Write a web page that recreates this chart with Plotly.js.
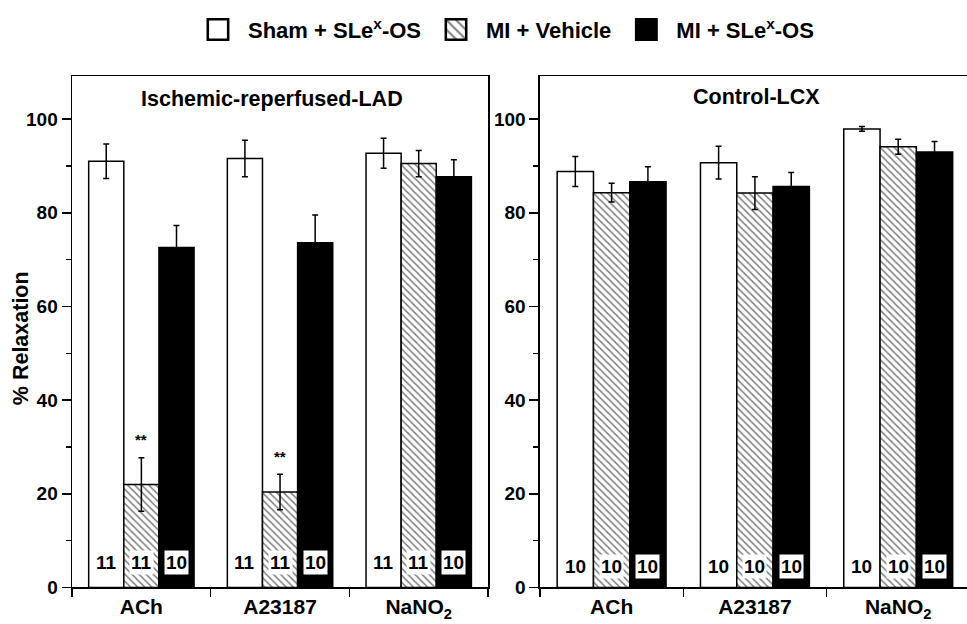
<!DOCTYPE html>
<html><head><meta charset="utf-8">
<script src="https://cdn.plot.ly/plotly-3.0.1.min.js"></script>
<style>html,body{margin:0;padding:0;background:#fff;overflow:hidden}</style>
</head><body><div id="chart" style="width:967px;height:624px"></div>
<script>
// ---- data ----
const categories = ['ACh', 'A23187', 'NaNO<sub>2</sub>'];
const seriesNames = ['Sham + SLe<sup>x</sup>-OS', 'MI + Vehicle', 'MI + SLe<sup>x</sup>-OS'];
const panelTitles = ['Ischemic-reperfused-LAD', 'Control-LCX'];
const yAxisTitle = '% Relaxation';
const yTickVals = [0, 20, 40, 60, 80, 100];
const yMinorTickVals = [10, 30, 50, 70, 90];

// Ischemic-reperfused LAD
const ladSham = [91.0, 91.6, 92.7];
const ladShamErr = [3.7, 3.9, 3.2];
const ladVehicle = [22.0, 20.4, 90.5];
const ladVehicleErr = [5.7, 3.8, 2.8];
const ladSLex = [72.6, 73.6, 87.7];
const ladSLexErr = [4.7, 5.9, 3.6];
const ladNSham = [11, 11, 11];
const ladNVehicle = [11, 11, 11];
const ladNSLex = [10, 10, 10];
const ladVehicleSignif = ['**', '**', ''];

// Control LCX
const lcxSham = [88.8, 90.7, 97.9];
const lcxShamErr = [3.2, 3.5, 0.5];
const lcxVehicle = [84.3, 84.2, 94.1];
const lcxVehicleErr = [2.0, 3.5, 1.6];
const lcxSLex = [86.6, 85.6, 93.0];
const lcxSLexErr = [3.2, 3.0, 2.2];
const lcxNSham = [10, 10, 10];
const lcxNVehicle = [10, 10, 10];
const lcxNSLex = [10, 10, 10];

// ---- styles ----
const FONT = 'Liberation Sans, Arial, Helvetica, sans-serif';
const BARGAP = 0.24;
const BARW = (1 - BARGAP) / 3;
const seriesStyles = [
  {color: '#ffffff', line: {color: '#000', width: 1.5}},
  {color: '#ffffff', line: {color: '#000', width: 1.5},
   pattern: {shape: '\\', fgcolor: '#000', bgcolor: '#fff', size: 5, solidity: 0.3, fillmode: 'overlay'}},
  {color: '#000000', line: {color: '#000', width: 1.5}}
];
const labelBg = [null, '#ffffff', '#ffffff'];

const panels = [
  {xa: 'x', ya: 'y', vals: [ladSham, ladVehicle, ladSLex], errs: [ladShamErr, ladVehicleErr, ladSLexErr],
   ns: [ladNSham, ladNVehicle, ladNSLex], nY: 5.3, signif: ladVehicleSignif},
  {xa: 'x2', ya: 'y2', vals: [lcxSham, lcxVehicle, lcxSLex], errs: [lcxShamErr, lcxVehicleErr, lcxSLexErr],
   ns: [lcxNSham, lcxNVehicle, lcxNSLex], nY: 4.4, signif: null}
];

const traces = [];
const annotations = [];
panels.forEach((p, pi) => {
  p.vals.forEach((v, k) => {
    traces.push({
      type: 'bar', x: categories, y: v, name: seriesNames[k],
      xaxis: p.xa, yaxis: p.ya, legendgroup: 's' + k, showlegend: pi === 0,
      marker: seriesStyles[k],
      error_y: {type: 'data', array: p.errs[k], visible: true, color: '#000', thickness: 1.5, width: 3},
      hoverinfo: 'skip'
    });
    p.ns[k].forEach((n, i) => {
      annotations.push({
        xref: p.xa, yref: p.ya, x: i + (k - 1) * BARW, y: p.nY, text: String(n),
        xanchor: 'center', yanchor: 'middle',
        showarrow: false, bgcolor: labelBg[k] || 'rgba(0,0,0,0)', borderpad: 1,
        font: {family: FONT, size: 19, color: '#000', weight: 'bold'}
      });
    });
  });
  if (p.signif) {
    p.signif.forEach((s, i) => {
      if (!s) return;
      annotations.push({
        xref: p.xa, yref: p.ya, x: i, y: p.vals[1][i] + p.errs[1][i] + 1.6, text: s,
        xanchor: 'center', yanchor: 'bottom', showarrow: false,
        font: {family: FONT, size: 15, color: '#000', weight: 'bold'}
      });
    });
  }
});
const titleFont = {family: FONT, size: 21.5, color: '#000', weight: 'bold'};
annotations.push({xref: 'paper', yref: 'paper', x: 0.2808, y: 0.841, xanchor: 'center', yanchor: 'middle',
  text: panelTitles[0], showarrow: false, font: titleFont});
annotations.push({xref: 'paper', yref: 'paper', x: 0.7818, y: 0.844, xanchor: 'center', yanchor: 'middle',
  text: panelTitles[1], showarrow: false, font: titleFont});
annotations.push({xref: 'paper', yref: 'paper', x: 0.0217, y: 0.458, xanchor: 'center', yanchor: 'middle',
  textangle: -90, text: yAxisTitle, showarrow: false, font: titleFont});

const xBase = {
  type: 'category', range: [-0.5, 2.5], tickson: 'boundaries', ticks: 'outside', ticklen: 8,
  tickwidth: 1.5, tickcolor: '#000', showline: true, linecolor: '#000', linewidth: 1.5,
  showgrid: false, zeroline: false, fixedrange: true,
  tickfont: {family: FONT, size: 21, color: '#000', weight: 'bold'}
};
const yBase = {
  range: [0, 109.2], tickmode: 'array', tickvals: yTickVals, ticks: 'outside', ticklen: 9,
  tickwidth: 1.5, tickcolor: '#000', showline: true, linecolor: '#000', linewidth: 1.5,
  showgrid: false, zeroline: false, fixedrange: true,
  minor: {tickmode: 'array', tickvals: yMinorTickVals, ticks: 'outside', ticklen: 5, tickwidth: 1.5, tickcolor: '#000', showgrid: false},
  tickfont: {family: FONT, size: 19, color: '#000', weight: 'bold'}
};
const dom = [0.0585, 0.8782];

const layout = {
  width: 967, height: 624,
  margin: {l: 0, r: 0, t: 0, b: 0},
  paper_bgcolor: '#fff', plot_bgcolor: 'rgba(0,0,0,0)',
  barmode: 'group', bargap: BARGAP, bargroupgap: 0,
  showlegend: true,
  legend: {orientation: 'h', x: 0.1944, xanchor: 'left', y: 0.986, yanchor: 'top', itemwidth: 50,
    font: {family: FONT, size: 22, color: '#000', weight: 'bold'}, traceorder: 'normal', itemclick: false},
  xaxis: Object.assign({}, xBase, {domain: [0.0745, 0.5047], anchor: 'y', mirror: true}),
  yaxis: Object.assign({}, yBase, {domain: dom, anchor: 'x', mirror: true}),
  xaxis2: Object.assign({}, xBase, {domain: [0.5584, 1], range: [-0.5, 2.48], anchor: 'y2', mirror: true}),
  yaxis2: Object.assign({}, yBase, {domain: dom, anchor: 'x2', mirror: false}),
  annotations: annotations
};

Plotly.newPlot('chart', traces, layout, {displayModeBar: false, staticPlot: true}).then(() => {
  document.querySelectorAll('#chart .legend .legendpoints path').forEach(el => {
    const t = el.getAttribute('transform') || '';
    el.setAttribute('transform', t + ' scale(1.7)');
  });
});
</script>
</body></html>
